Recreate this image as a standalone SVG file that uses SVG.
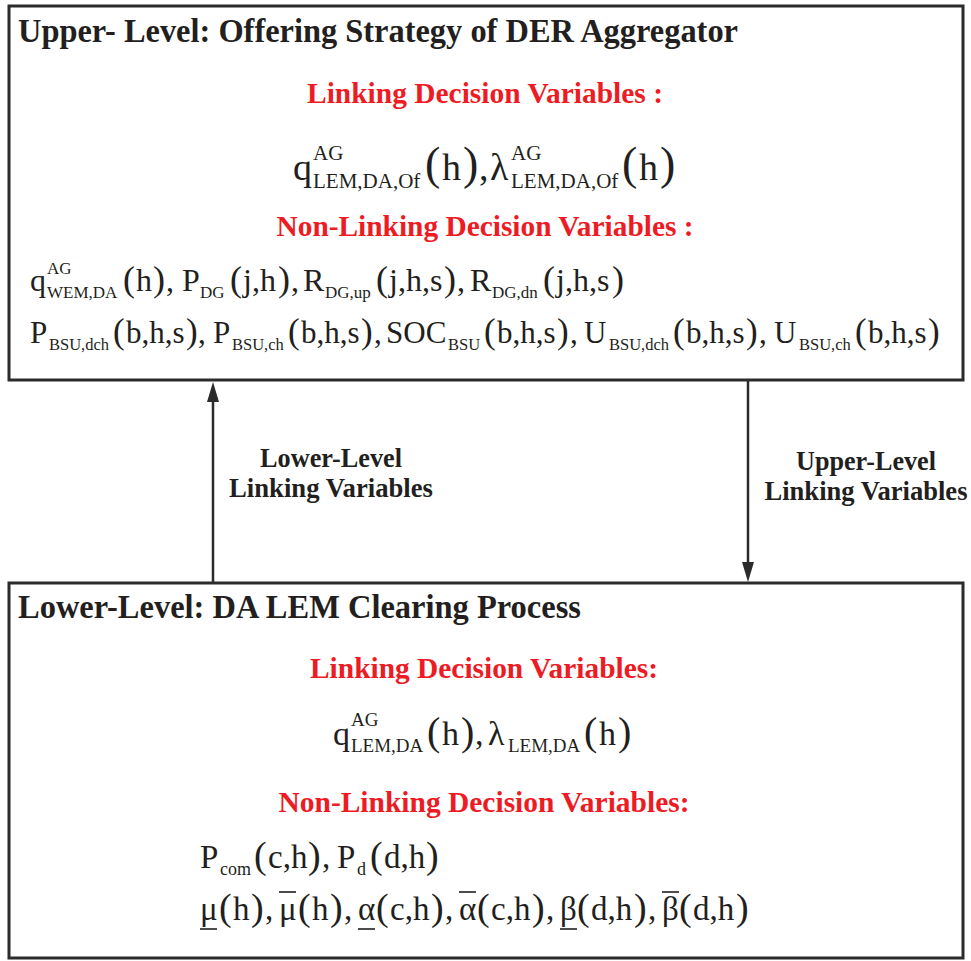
<svg xmlns="http://www.w3.org/2000/svg" width="971" height="961" viewBox="0 0 971 961">
<style>
.box{fill:#fff;stroke:#2b2b2b;stroke-width:3}
.t{font-family:"Liberation Serif","Times New Roman",serif;font-weight:bold;fill:#231f20}
.ttl{font-size:33px}
.red{font-family:"Liberation Serif","Times New Roman",serif;font-weight:bold;fill:#ed1c24;font-size:30px;text-anchor:middle}
.lbl{font-size:27px;text-anchor:middle}
.m{font-family:"Liberation Serif","Times New Roman",serif;fill:#231f20}
.f1{font-size:38px}.s1{font-size:21px}.p1{font-size:46px}
.f2{font-size:32px}.s2{font-size:17px}.p2{font-size:36px}
.f3{font-size:31px}.s3{font-size:16.5px}.p3{font-size:35px}
.f4{font-size:34px}.s4{font-size:19px}.p4{font-size:40px}
.f5{font-size:33px}.s5{font-size:18px}.p5{font-size:38px}
.bar{stroke:#231f20;stroke-width:1.6}
.conn{stroke:#2b2b2b;stroke-width:2.5;fill:none}
</style>
<defs>
<marker id="ah" viewBox="0 0 20 12" refX="10" refY="6" markerWidth="20" markerHeight="12" markerUnits="userSpaceOnUse" orient="auto">
<path d="M0,0 L20,6 L0,12 Z" fill="#2b2b2b"/>
</marker>
</defs>

<g id="upper-level">
<rect class="box" x="9" y="6" width="954" height="374"/>
<text class="t ttl" x="18" y="42" textLength="720" lengthAdjust="spacingAndGlyphs">Upper- Level: Offering Strategy of DER Aggregator</text>
<text class="red" x="485" y="103" textLength="356" lengthAdjust="spacingAndGlyphs">Linking Decision Variables :</text>
<text class="m">
<tspan class="f1" x="293" y="180">q</tspan><tspan class="s1" x="313" y="160">AG</tspan><tspan class="s1" x="313" y="188">LEM,DA,Of</tspan><tspan class="p1" x="425" y="179">(</tspan><tspan class="f1" x="442" y="180">h</tspan><tspan class="p1" x="463" y="179">)</tspan><tspan class="f1" x="479" y="180">,</tspan><tspan class="f1" x="490" y="180">λ</tspan><tspan class="s1" x="511" y="160">AG</tspan><tspan class="s1" x="511" y="188">LEM,DA,Of</tspan><tspan class="p1" x="622" y="179">(</tspan><tspan class="f1" x="639" y="180">h</tspan><tspan class="p1" x="660" y="179">)</tspan>
</text>
<text class="red" x="485" y="236" textLength="417" lengthAdjust="spacingAndGlyphs">Non-Linking Decision Variables :</text>
<text class="m">
<tspan class="f2" x="30" y="291">q</tspan><tspan class="s2" x="47" y="274">AG</tspan><tspan class="s2" x="47" y="298">WEM,DA</tspan><tspan class="p2" x="123" y="291">(</tspan><tspan class="f2" x="136" y="291">h</tspan><tspan class="p2" x="153" y="291">)</tspan><tspan class="f2" x="166" y="291">,</tspan><tspan class="f2" x="182" y="291">P</tspan><tspan class="s2" x="200" y="298">DG</tspan><tspan class="p2" x="230" y="291">(</tspan><tspan class="f2" x="243" y="291">j,h</tspan><tspan class="p2" x="278" y="291">)</tspan><tspan class="f2" x="291" y="291">,</tspan><tspan class="f2" x="303" y="291">R</tspan><tspan class="s2" x="325" y="298">DG,up</tspan><tspan class="p2" x="376" y="291">(</tspan><tspan class="f2" x="389" y="291">j,h,s</tspan><tspan class="p2" x="444" y="291">)</tspan><tspan class="f2" x="457" y="291">,</tspan><tspan class="f2" x="470" y="291">R</tspan><tspan class="s2" x="492" y="298">DG,dn</tspan><tspan class="p2" x="543" y="291">(</tspan><tspan class="f2" x="556" y="291">j,h,s</tspan><tspan class="p2" x="612" y="291">)</tspan>
</text>
<text class="m">
<tspan class="f3" x="30" y="343">P</tspan><tspan class="s3" x="49" y="350">BSU,dch</tspan><tspan class="p3" x="113" y="343">(</tspan><tspan class="f3" x="126" y="343">b,h,s</tspan><tspan class="p3" x="186" y="343">)</tspan><tspan class="f3" x="198" y="343">,</tspan><tspan class="f3" x="213" y="343">P</tspan><tspan class="s3" x="232" y="350">BSU,ch</tspan><tspan class="p3" x="288" y="343">(</tspan><tspan class="f3" x="301" y="343">b,h,s</tspan><tspan class="p3" x="361" y="343">)</tspan><tspan class="f3" x="374" y="343">,</tspan><tspan class="f3" x="386" y="343">SOC</tspan><tspan class="s3" x="448" y="350">BSU</tspan><tspan class="p3" x="484" y="343">(</tspan><tspan class="f3" x="497" y="343">b,h,s</tspan><tspan class="p3" x="557" y="343">)</tspan><tspan class="f3" x="570" y="343">,</tspan><tspan class="f3" x="584" y="343">U</tspan><tspan class="s3" x="609" y="350">BSU,dch</tspan><tspan class="p3" x="673" y="343">(</tspan><tspan class="f3" x="686" y="343">b,h,s</tspan><tspan class="p3" x="746" y="343">)</tspan><tspan class="f3" x="759" y="343">,</tspan><tspan class="f3" x="774" y="343">U</tspan><tspan class="s3" x="799" y="350">BSU,ch</tspan><tspan class="p3" x="855" y="343">(</tspan><tspan class="f3" x="868" y="343">b,h,s</tspan><tspan class="p3" x="928" y="343">)</tspan>
</text>
</g>

<g id="lower-level">
<rect class="box" x="9" y="583" width="954" height="375"/>
<text class="t ttl" x="18" y="618" textLength="563" lengthAdjust="spacingAndGlyphs">Lower-Level: DA LEM Clearing Process</text>
<text class="red" x="484" y="678" textLength="348" lengthAdjust="spacingAndGlyphs">Linking Decision Variables:</text>
<text class="m">
<tspan class="f4" x="333" y="745">q</tspan><tspan class="s4" x="351" y="726">AG</tspan><tspan class="s4" x="351" y="752">LEM,DA</tspan><tspan class="p4" x="427" y="745">(</tspan><tspan class="f4" x="442" y="745">h</tspan><tspan class="p4" x="461" y="745">)</tspan><tspan class="f4" x="475" y="745">,</tspan><tspan class="f4" x="488" y="745">λ</tspan><tspan class="s4" x="508" y="752">LEM,DA</tspan><tspan class="p4" x="584" y="745">(</tspan><tspan class="f4" x="599" y="745">h</tspan><tspan class="p4" x="618" y="745">)</tspan>
</text>
<text class="red" x="484" y="812" textLength="411" lengthAdjust="spacingAndGlyphs">Non-Linking Decision Variables:</text>
<text class="m">
<tspan class="f5" x="200" y="868">P</tspan><tspan class="s5" x="220" y="875">com</tspan><tspan class="p5" x="254" y="868">(</tspan><tspan class="f5" x="268" y="868">c,h</tspan><tspan class="p5" x="308" y="868">)</tspan><tspan class="f5" x="322" y="868">,</tspan><tspan class="f5" x="337" y="868">P</tspan><tspan class="s5" x="357" y="875">d</tspan><tspan class="p5" x="370" y="868">(</tspan><tspan class="f5" x="384" y="868">d,h</tspan><tspan class="p5" x="426" y="868">)</tspan>
</text>
<text class="m">
<tspan class="f5" x="200" y="920">μ</tspan><tspan class="p5" x="219" y="920">(</tspan><tspan class="f5" x="233" y="920">h</tspan><tspan class="p5" x="251" y="920">)</tspan><tspan class="f5" x="265" y="920">,</tspan><tspan class="f5" x="279" y="920">μ</tspan><tspan class="p5" x="298" y="920">(</tspan><tspan class="f5" x="312" y="920">h</tspan><tspan class="p5" x="330" y="920">)</tspan><tspan class="f5" x="344" y="920">,</tspan><tspan class="f5" x="358" y="920">α</tspan><tspan class="p5" x="376" y="920">(</tspan><tspan class="f5" x="390" y="920">c,h</tspan><tspan class="p5" x="431" y="920">)</tspan><tspan class="f5" x="445" y="920">,</tspan><tspan class="f5" x="459" y="920">α</tspan><tspan class="p5" x="477" y="920">(</tspan><tspan class="f5" x="491" y="920">c,h</tspan><tspan class="p5" x="532" y="920">)</tspan><tspan class="f5" x="546" y="920">,</tspan><tspan class="f5" x="560" y="920">β</tspan><tspan class="p5" x="577" y="920">(</tspan><tspan class="f5" x="591" y="920">d,h</tspan><tspan class="p5" x="634" y="920">)</tspan><tspan class="f5" x="648" y="920">,</tspan><tspan class="f5" x="662" y="920">β</tspan><tspan class="p5" x="679" y="920">(</tspan><tspan class="f5" x="693" y="920">d,h</tspan><tspan class="p5" x="736" y="920">)</tspan>
</text>
<line class="bar" x1="200" y1="929" x2="217" y2="929"/>
<line class="bar" x1="279" y1="892" x2="296" y2="892"/>
<line class="bar" x1="358" y1="929" x2="375" y2="929"/>
<line class="bar" x1="459" y1="892" x2="476" y2="892"/>
<line class="bar" x1="560" y1="929" x2="577" y2="929"/>
<line class="bar" x1="662" y1="892" x2="679" y2="892"/>
</g>

<g id="connectors">
<line class="conn" x1="213" y1="583" x2="213" y2="392" marker-end="url(#ah)"/>
<line class="conn" x1="748" y1="380" x2="748" y2="572" marker-end="url(#ah)"/>
<text class="t lbl" x="331" y="467" textLength="142" lengthAdjust="spacingAndGlyphs">Lower-Level</text>
<text class="t lbl" x="331" y="497" textLength="204" lengthAdjust="spacingAndGlyphs">Linking Variables</text>
<text class="t lbl" x="866" y="470" textLength="140" lengthAdjust="spacingAndGlyphs">Upper-Level</text>
<text class="t lbl" x="866" y="500" textLength="203" lengthAdjust="spacingAndGlyphs">Linking Variables</text>
</g>
</svg>
